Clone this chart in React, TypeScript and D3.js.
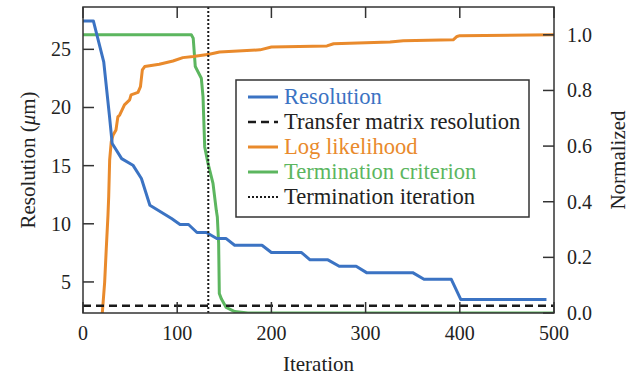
import * as d3 from "d3";

// ---------------------------------------------------------------------------
// Data
// ---------------------------------------------------------------------------

const RES_ITER = [0, 11, 22, 28, 31, 41, 53, 62, 71, 94, 103, 112, 121, 131, 142, 152, 161, 190, 200, 232, 241, 260, 272, 290, 301, 350, 362, 391, 401, 492];
const RES_VAL = [27.44, 27.44, 23.93, 19.35, 16.9, 15.6, 15.04, 13.9, 11.6, 10.45, 9.94, 9.94, 9.25, 9.25, 8.73, 8.73, 8.16, 8.16, 7.53, 7.53, 6.9, 6.9, 6.35, 6.35, 5.8, 5.8, 5.23, 5.23, 3.5, 3.5];

const TRANSFER_RES = 2.95;

const LOGL_ITER = [20.5, 23, 24.7, 26.5, 27.3, 28.3, 30, 32, 35, 37, 39, 44, 49.5, 51, 58.4, 61, 63, 65.5, 81, 95.5, 106, 117, 134, 145, 188, 200, 259, 266, 326, 340, 393, 397, 400, 500];
const LOGL_VAL = [0, 0.111, 0.231, 0.351, 0.42, 0.55, 0.616, 0.64, 0.658, 0.705, 0.712, 0.748, 0.766, 0.784, 0.793, 0.814, 0.874, 0.886, 0.894, 0.906, 0.918, 0.922, 0.93, 0.938, 0.946, 0.956, 0.96, 0.968, 0.974, 0.979, 0.982, 0.994, 0.997, 1.0];

const TERM_ITER = [0, 115, 117, 119.2, 125.6, 127.4, 129.2, 132.7, 138, 141.5, 142.6, 144, 144.7, 147, 152, 161, 175, 500];
const TERM_VAL = [1.0, 1.0, 0.988, 0.886, 0.844, 0.778, 0.597, 0.538, 0.466, 0.369, 0.345, 0.25, 0.07, 0.05, 0.02, 0.005, 0, 0];

const TERM_ITERATION = 133;

const X_TICKS = [0, 100, 200, 300, 400, 500];
const Y_LEFT_TICKS = [5, 10, 15, 20, 25];
const Y_RIGHT_TICKS = [0, 0.2, 0.4, 0.6, 0.8, 1.0];

const LEGEND = [
  { label: "Resolution", color: "#3b73c3", dash: "none", width: 3 },
  { label: "Transfer matrix resolution", color: "#1a1a1a", dash: "8,5", width: 2.5 },
  { label: "Log likelihood", color: "#e98a2c", dash: "none", width: 3 },
  { label: "Termination criterion", color: "#5cb65f", dash: "none", width: 3 },
  { label: "Termination iteration", color: "#1a1a1a", dash: "2,2", width: 2 },
];

// ---------------------------------------------------------------------------
// Layout
// ---------------------------------------------------------------------------

const W = 633;
const H = 379;
const PLOT = { left: 83, right: 554, top: 7, bottom: 313 };
const FONT = "'Liberation Serif', 'Times New Roman', serif";
const AXIS = "#333";
const TICK = 11;

export default function App() {
  const x = d3.scaleLinear().domain([0, 500]).range([PLOT.left, PLOT.right]);
  const yL = d3.scaleLinear().domain([2.33, 28.64]).range([PLOT.bottom, PLOT.top]);
  const yR = d3.scaleLinear().domain([0, 1.1]).range([PLOT.bottom, PLOT.top]);

  const line = d3.line<[number, number]>().x((d) => d[0]).y((d) => d[1]);

  const resPath = line(RES_ITER.map((it, i) => [x(it), yL(RES_VAL[i])]));
  const loglPath = line(LOGL_ITER.map((it, i) => [x(it), yR(LOGL_VAL[i])]));
  const termPath = line(TERM_ITER.map((it, i) => [x(it), yR(TERM_VAL[i])]));

  const legX = 236;
  const legY = 80;
  const legW = 293;
  const legH = 137;

  return (
    <div style={{ position: "fixed", left: 0, top: 0 }}>
      <svg width={W} height={H} style={{ display: "block", background: "white" }}>
        <defs>
          <clipPath id="plot">
            <rect x={PLOT.left} y={PLOT.top} width={PLOT.right - PLOT.left} height={PLOT.bottom - PLOT.top} />
          </clipPath>
        </defs>

        <g clipPath="url(#plot)" fill="none" strokeLinejoin="round" strokeLinecap="butt">
          <path d={termPath ?? ""} stroke="#5cb65f" strokeWidth={3} />
          <path d={loglPath ?? ""} stroke="#e98a2c" strokeWidth={3} />
          <path d={resPath ?? ""} stroke="#3b73c3" strokeWidth={3} />
          <line x1={PLOT.left} x2={PLOT.right} y1={yL(TRANSFER_RES)} y2={yL(TRANSFER_RES)} stroke="#1a1a1a" strokeWidth={2.5} strokeDasharray="8,5" />
          <line x1={x(TERM_ITERATION)} x2={x(TERM_ITERATION)} y1={PLOT.top} y2={PLOT.bottom} stroke="#1a1a1a" strokeWidth={2} strokeDasharray="2,2" />
        </g>

        {/* Frame */}
        <rect x={PLOT.left} y={PLOT.top} width={PLOT.right - PLOT.left} height={PLOT.bottom - PLOT.top} fill="none" stroke={AXIS} strokeWidth={1.5} />

        {/* X ticks (bottom and top, inward) */}
        {X_TICKS.map((t) => (
          <g key={`x${t}`}>
            <line x1={x(t)} x2={x(t)} y1={PLOT.bottom} y2={PLOT.bottom - TICK} stroke={AXIS} strokeWidth={1.5} />
            <line x1={x(t)} x2={x(t)} y1={PLOT.top} y2={PLOT.top + TICK} stroke={AXIS} strokeWidth={1.5} />
            <text x={x(t)} y={340} textAnchor="middle" fontSize={20} fontFamily={FONT} fill="#222">{t}</text>
          </g>
        ))}

        {/* Left ticks */}
        {Y_LEFT_TICKS.map((t) => (
          <g key={`l${t}`}>
            <line x1={PLOT.left} x2={PLOT.left + TICK} y1={yL(t)} y2={yL(t)} stroke={AXIS} strokeWidth={1.5} />
            <text x={PLOT.left - 12} y={yL(t)} dy="0.35em" textAnchor="end" fontSize={20} fontFamily={FONT} fill="#222">{t}</text>
          </g>
        ))}

        {/* Right ticks */}
        {Y_RIGHT_TICKS.map((t) => (
          <g key={`r${t}`}>
            <line x1={PLOT.right} x2={PLOT.right - TICK} y1={yR(t)} y2={yR(t)} stroke={AXIS} strokeWidth={1.5} />
            <text x={PLOT.right + 13} y={yR(t)} dy="0.35em" textAnchor="start" fontSize={20} fontFamily={FONT} fill="#222">{t.toFixed(1)}</text>
          </g>
        ))}

        {/* Axis labels */}
        <text x={(PLOT.left + PLOT.right) / 2} y={371} textAnchor="middle" fontSize={21} fontFamily={FONT} fill="#222">Iteration</text>
        <text transform={`translate(35,${(PLOT.top + PLOT.bottom) / 2}) rotate(-90)`} textAnchor="middle" fontSize={21} fontFamily={FONT} fill="#222">
          Resolution (<tspan fontStyle="italic">μ</tspan>m)
        </text>
        <text transform={`translate(625,${(PLOT.top + PLOT.bottom) / 2}) rotate(-90)`} textAnchor="middle" fontSize={21} fontFamily={FONT} fill="#222">Normalized</text>

        {/* Legend */}
        <rect x={legX} y={legY} width={legW} height={legH} fill="white" stroke={AXIS} strokeWidth={1.5} />
        {LEGEND.map((d, i) => {
          const cy = 97 + i * 25;
          const textColor = d.color === "#1a1a1a" ? "#222" : d.color;
          return (
            <g key={d.label}>
              <line x1={248} x2={278} y1={cy} y2={cy} stroke={d.color} strokeWidth={d.width} strokeDasharray={d.dash} />
              <text x={284} y={cy} dy="0.33em" fontSize={22.6} fontFamily={FONT} fill={textColor}>{d.label}</text>
            </g>
          );
        })}
      </svg>
    </div>
  );
}
